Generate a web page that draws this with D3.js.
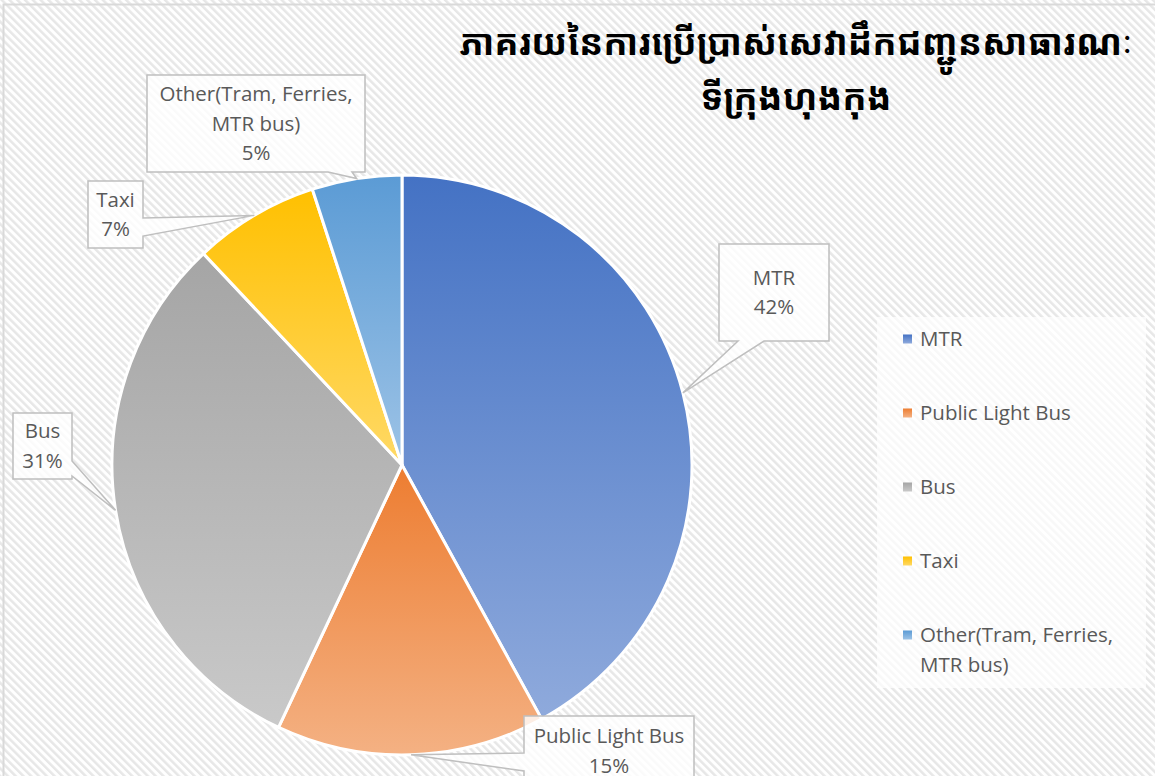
<!DOCTYPE html>
<html>
<head>
<meta charset="utf-8">
<script src="https://cdn.jsdelivr.net/npm/d3@7"></script>
<style>
  body { margin: 0; background: #fff; }
  svg { display: block; }
</style>
</head>
<body>
<script>
// data
const categories = ["MTR", "Public Light Bus", "Bus", "Taxi", "Other(Tram, Ferries, MTR bus)"];
const values = [42, 15, 31, 7, 5];
const labelLines = [["MTR"], ["Public Light Bus"], ["Bus"], ["Taxi"], ["Other(Tram, Ferries,", "MTR bus)"]];
const colorTop = ["#4472C4", "#ED7D31", "#A5A5A5", "#FFC000", "#5B9BD5"];
const colorBottom = ["#8FAADC", "#F4B183", "#C9C9C9", "#FFD966", "#9DC3E6"];
const titleLines = ["ភាគរយនៃការប្រើប្រាស់សេវាដឹកជញ្ជូនសាធារណៈ", "ទីក្រុងហុងកុង"];

let width = 1155,
  height = 776,
  radius = 290,
  cx = 402,
  cy = 465;

let font = "'Open Sans', Lato, sans-serif";
let textColor = "#595959";

let svg = d3.select("body").append("svg")
  .attr("width", width)
  .attr("height", height);

let defs = svg.append("defs");

// hatched background
let pat = defs.append("pattern")
  .attr("id", "hatch")
  .attr("patternUnits", "userSpaceOnUse")
  .attr("width", 5.5)
  .attr("height", 5.5)
  .attr("patternTransform", "rotate(-45)");
pat.append("rect").attr("width", 5.5).attr("height", 5.5).attr("fill", "#fff");
pat.append("rect").attr("width", 2.5).attr("height", 5.5).attr("fill", "#e7e7e7");

categories.forEach((c, i) => {
  let g = defs.append("linearGradient")
    .attr("id", "grad" + i)
    .attr("x1", 0).attr("y1", 0).attr("x2", 0).attr("y2", 1);
  g.append("stop").attr("offset", "0%").attr("stop-color", colorTop[i]);
  g.append("stop").attr("offset", "100%").attr("stop-color", colorBottom[i]);
});

svg.append("rect")
  .attr("width", width).attr("height", height)
  .attr("fill", "url(#hatch)");

svg.append("rect")
  .attr("x", 3.5).attr("y", 4.5)
  .attr("width", width + 10).attr("height", height + 10)
  .attr("fill", "none")
  .attr("stroke", "#d9d9d9")
  .attr("stroke-width", 2);

// title
svg.append("text")
  .attr("x", 796)
  .attr("text-anchor", "middle")
  .attr("font-family", "'Noto Sans Khmer', 'Khmer OS', 'Noto Sans', sans-serif")
  .attr("font-size", 36)
  .attr("font-weight", "bold")
  .attr("fill", "#000")
  .selectAll("tspan")
  .data(titleLines)
  .enter().append("tspan")
  .attr("x", 796)
  .attr("y", (d, i) => 55 + i * 55)
  .text(d => d);

// pie
let pie = d3.pie().sort(null).value(d => d);
let arcs = pie(values);
let arc = d3.arc().innerRadius(0).outerRadius(radius);

let pieG = svg.append("g").attr("transform", `translate(${cx},${cy})`);
pieG.selectAll("path")
  .data(arcs)
  .enter().append("path")
  .attr("d", arc)
  .attr("fill", (d, i) => `url(#grad${i})`)
  .attr("stroke", "#fff")
  .attr("stroke-width", 3)
  .attr("stroke-linejoin", "round");

// callouts: box + pointer side
let boxes = [
  { x: 719, y: 244, w: 110, h: 97, side: "bottom", p: [738, 764] },
  { x: 524, y: 716, w: 170, h: 80, side: "left", p: [753, 771] },
  { x: 13, y: 413, w: 59, h: 66, side: "right", p: [461, 476] },
  { x: 88, y: 181, w: 55, h: 67, side: "right", p: [218, 236] },
  { x: 147, y: 75, w: 218, h: 97, side: "bottom", p: [328, 352] }
];

let calloutPath = (b, ax, ay) => {
  let x0 = b.x, y0 = b.y, x1 = b.x + b.w, y1 = b.y + b.h;
  let pts;
  if (b.side === "bottom") {
    pts = [[x0, y0], [x1, y0], [x1, y1], [b.p[1], y1], [ax, ay], [b.p[0], y1], [x0, y1]];
  } else if (b.side === "right") {
    pts = [[x0, y0], [x1, y0], [x1, b.p[0]], [ax, ay], [x1, b.p[1]], [x1, y1], [x0, y1]];
  } else {
    pts = [[x0, y0], [x1, y0], [x1, y1], [x0, y1], [x0, b.p[1]], [ax, ay], [x0, b.p[0]]];
  }
  return "M" + pts.map(p => p.join(",")).join("L") + "Z";
};

let calloutG = svg.append("g");
arcs.forEach((a, i) => {
  let mid = (a.startAngle + a.endAngle) / 2;
  let ax = cx + radius * Math.sin(mid);
  let ay = cy - radius * Math.cos(mid);
  let b = boxes[i];
  calloutG.append("path")
    .attr("d", calloutPath(b, ax, ay))
    .attr("fill", "rgba(255,255,255,0.8)")
    .attr("stroke", "#bfbfbf")
    .attr("stroke-width", 1.5);

  let lines = labelLines[i].concat([values[i] + "%"]);
  let lh = 29.5;
  let startY = b.y + b.h / 2 - (lines.length - 1) * lh / 2;
  if (i === 1) startY = 736;
  calloutG.append("text")
    .attr("text-anchor", "middle")
    .attr("font-family", font)
    .attr("font-size", 20.5)
    .attr("fill", textColor)
    .selectAll("tspan")
    .data(lines)
    .enter().append("tspan")
    .attr("x", b.x + b.w / 2)
    .attr("y", (d, j) => startY + j * lh)
    .attr("dy", "0.35em")
    .text(d => d);
});

// legend
let legendG = svg.append("g");
legendG.append("rect")
  .attr("x", 877).attr("y", 317)
  .attr("width", 269).attr("height", 371)
  .attr("fill", "rgba(255,255,255,0.7)");

let legendY = d3.scalePoint()
  .domain(categories)
  .range([339, 635]);

let items = legendG.selectAll("g.item")
  .data(categories)
  .enter().append("g")
  .attr("class", "item")
  .attr("transform", d => `translate(0,${legendY(d)})`);

items.append("rect")
  .attr("x", 903).attr("y", -4.5)
  .attr("width", 9).attr("height", 9)
  .attr("fill", (d, i) => `url(#grad${i})`);

items.append("text")
  .attr("font-family", font)
  .attr("font-size", 20.5)
  .attr("fill", textColor)
  .selectAll("tspan")
  .data(d => labelLines[categories.indexOf(d)])
  .enter().append("tspan")
  .attr("x", 920)
  .attr("y", (d, j) => j * 29.5)
  .attr("dy", "0.35em")
  .text(d => d);
</script>
</body>
</html>
